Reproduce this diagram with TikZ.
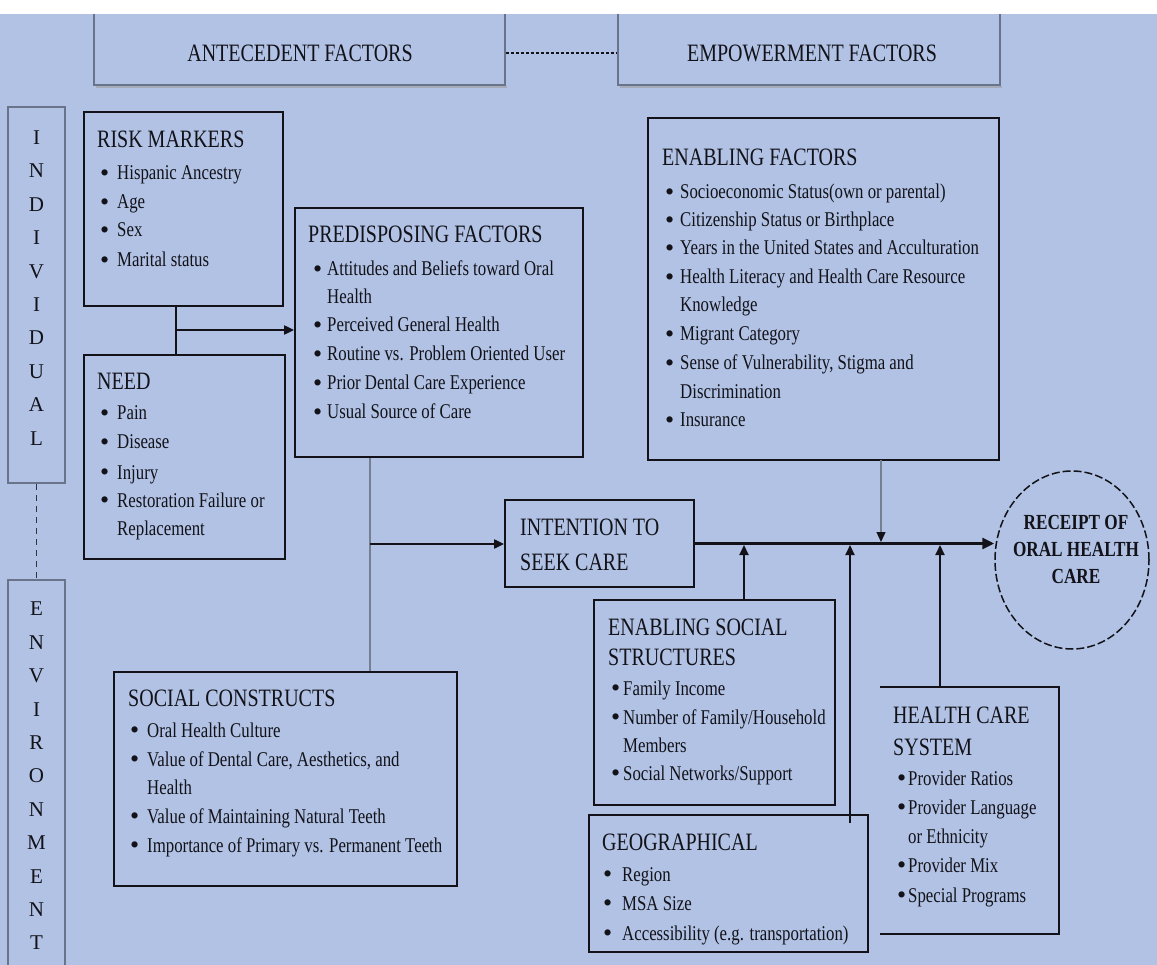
\documentclass[tikz,border=0pt]{standalone}
\usepackage{fontspec}
\setmainfont{Liberation Serif}[FakeStretch=0.8]
\newfontfamily\vfont{Liberation Serif}
\newfontfamily\bulfont{Liberation Serif}
\usetikzlibrary{shapes.geometric,arrows.meta,fit}
\definecolor{bg}{RGB}{177,194,229}
\definecolor{ink}{RGB}{18,18,24}
\definecolor{soft}{RGB}{105,115,138}
\definecolor{gline}{RGB}{118,126,146}
\tikzset{
  box/.style={draw=ink, line width=1.8pt, inner sep=0pt},
  softbox/.style={draw=soft, line width=1.5pt, inner sep=0pt},
  ttl/.style={anchor=base west, inner sep=0pt, font=\fontsize{25}{28}\selectfont, text=ink},
  toptxt/.style={anchor=center, inner sep=0pt, font=\fontsize{25}{28}\selectfont, text=ink},
  itm/.style={anchor=base west, inner sep=0pt, font=\fontsize{21}{25}\selectfont, text=ink},
  vlet/.style={align=center, inner sep=0pt, font=\vfont\fontsize{21}{33.4}\selectfont, text=ink},
  arr/.style={draw=ink, line width=2pt, -{Triangle[length=10pt,width=9pt]}},
  mainarr/.style={draw=ink, line width=3pt, -{Triangle[length=12pt,width=11pt]}},
  thinline/.style={draw=gline, line width=1.3pt},
}
\newcommand\mybul{\raisebox{-1.6pt}{\bulfont\fontsize{26}{26}\selectfont\textbullet}}
\newcommand\myitem[5]{\node[itm] (#1) at (#2,#3) {\makebox[#4pt][l]{\mybul}#5};}
\newcommand\mycont[4]{\node[itm] (#1) at (#2,#3) {#4};}
\begin{document}
\begin{tikzpicture}[x=1pt,y=-1pt]
\useasboundingbox (0,0) rectangle (1157,965);
\fill[bg] (0,0) rectangle (1157,965);

% top boxes
\draw[draw=soft!60, line width=2pt] (96,87) -- (507,87);
\draw[draw=soft!60, line width=2pt] (620,87) -- (1002,87);
\node[softbox, fit={(94,8) (505,85)}] (ante) {};
\node[softbox, fit={(618,8) (1000,85)}] (empo) {};
\fill[white] (0,0) rectangle (1157,14);
\node[toptxt] (anteT) at (300,53) {ANTECEDENT FACTORS};
\node[toptxt] (empoT) at (812,53) {EMPOWERMENT FACTORS};
\draw[draw=ink, line width=1.5pt, dash pattern=on 3pt off 2pt] (ante.east |- anteT) -- (empo.west |- anteT);

% side boxes
\node[softbox, fit={(8,107) (65,483)}] (indiv) {};
\node[vlet] (indivT) at (36.5,288) {I\\N\\D\\I\\V\\I\\D\\U\\A\\L};
\node[softbox, fit={(8,580) (65,985)}] (envir) {};
\node[vlet] (envirT) at (36.5,776) {E\\N\\V\\I\\R\\O\\N\\M\\E\\N\\T};
\draw[draw=ink!70!gline, line width=1.2pt, dash pattern=on 6pt off 5pt] (indiv.south) -- (envir.north);

% risk markers
\node[box, fit={(84,112) (283,306)}] (risk) {};
\node[ttl] (riskT) at (97,148) {RISK MARKERS};
\myitem{rm1}{100}{180}{17}{Hispanic Ancestry}
\myitem{rm2}{100}{209}{17}{Age}
\myitem{rm3}{100}{237}{17}{Sex}
\myitem{rm4}{100}{267}{17}{Marital status}

% need
\node[box, fit={(84,355) (285,559)}] (need) {};
\node[ttl] (needT) at (97,390) {NEED};
\myitem{nd1}{100}{420}{17}{Pain}
\myitem{nd2}{100}{449}{17}{Disease}
\myitem{nd3}{100}{479}{17}{Injury}
\myitem{nd4}{100}{507}{17}{Restoration Failure or}
\mycont{nd5}{117}{535}{Replacement}

% predisposing
\node[box, fit={(295,208) (583,457)}] (pred) {};
\node[ttl] (predT) at (308,243) {PREDISPOSING FACTORS};
\myitem{pd1}{313}{276}{14}{Attitudes and Beliefs toward Oral}
\mycont{pd2}{327}{304}{Health}
\myitem{pd3}{313}{332}{14}{Perceived General Health}
\myitem{pd4}{313}{361}{14}{Routine vs. Problem Oriented User}
\myitem{pd5}{313}{390}{14}{Prior Dental Care Experience}
\myitem{pd6}{313}{419}{14}{Usual Source of Care}

% social constructs
\node[box, fit={(114,672) (457,886)}] (soc) {};
\node[ttl] (socT) at (128,706) {SOCIAL CONSTRUCTS};
\myitem{sc1}{130}{737}{17}{Oral Health Culture}
\myitem{sc2}{130}{766}{17}{Value of Dental Care, Aesthetics, and}
\mycont{sc3}{147}{794}{Health}
\myitem{sc4}{130}{823}{17}{Value of Maintaining Natural Teeth}
\myitem{sc5}{130}{852}{17}{Importance of Primary vs. Permanent Teeth}

% intention
\node[box, fit={(505,500) (694,587)}] (intent) {};
\node[ttl] (intT1) at (520,535) {INTENTION TO};
\node[ttl] (intT2) at (520,570) {SEEK CARE};

% enabling factors
\node[box, fit={(648,118) (999,460)}] (enab) {};
\node[ttl] (enabT) at (662,166) {ENABLING FACTORS};
\myitem{ef1}{665}{199}{15}{Socioeconomic Status(own or parental)}
\myitem{ef2}{665}{227}{15}{Citizenship Status or Birthplace}
\myitem{ef3}{665}{255}{15}{Years in the United States and Acculturation}
\myitem{ef4}{665}{284}{15}{Health Literacy and Health Care Resource}
\mycont{ef5}{680}{312}{Knowledge}
\myitem{ef6}{665}{341}{15}{Migrant Category}
\myitem{ef7}{665}{370}{15}{Sense of Vulnerability, Stigma and}
\mycont{ef8}{680}{399}{Discrimination}
\myitem{ef9}{665}{427}{15}{Insurance}

% receipt ellipse
\node[ellipse, draw=ink, line width=1.5pt, dash pattern=on 8pt off 3pt, minimum width=154pt, minimum height=178pt, inner sep=0pt] (rec) at (1072,560) {};
\node[align=center, inner sep=0pt, font=\bfseries\fontsize{21.5}{27}\selectfont, text=ink] (recT) at (1076,549) {RECEIPT OF\\ORAL HEALTH\\CARE};

% enabling social structures
\node[box, fit={(594,600) (835,805)}] (ess) {};
\node[ttl] (essT1) at (608,635) {ENABLING SOCIAL};
\node[ttl] (essT2) at (608,665) {STRUCTURES};
\myitem{es1}{611}{695}{12}{Family Income}
\myitem{es2}{611}{724}{12}{Number of Family/Household}
\mycont{es3}{623}{752}{Members}
\myitem{es4}{611}{780}{12}{Social Networks/Support}

% geographical
\node[box, fit={(589,815) (868,952)}] (geo) {};
\node[ttl] (geoT) at (602,850) {GEOGRAPHICAL};
\myitem{g1}{603}{881}{19}{Region}
\myitem{g2}{603}{910}{19}{MSA Size}
\myitem{g3}{603}{940}{19}{Accessibility (e.g. transportation)}

% health care system (no left border)
\node[inner sep=0pt, fit={(880,687) (1059,934)}] (hcs) {};
\draw[draw=ink, line width=1.8pt] (hcs.north west) -- (hcs.north east) -- (hcs.south east) -- (hcs.south west);
\node[ttl] (hcsT1) at (893,723) {HEALTH CARE};
\node[ttl] (hcsT2) at (893,755) {SYSTEM};
\myitem{h1}{897}{785}{11}{Provider Ratios}
\myitem{h2}{897}{814}{11}{Provider Language}
\mycont{h3}{908}{843}{or Ethnicity}
\myitem{h4}{897}{872}{11}{Provider Mix}
\myitem{h5}{897}{902}{11}{Special Programs}

% connectors
\coordinate (jn) at (176,330);
\draw[draw=ink, line width=2pt] (risk.south -| jn) -- (need.north -| jn);
\draw[arr] (jn) -- (jn -| pred.west);

\coordinate (pj) at (370,544);
\draw[thinline] (pred.south -| pj) -- (soc.north -| pj);
\draw[arr] (pj) -- (pj -| intent.west);

\draw[mainarr] (intent.east) -- (intent.east -| rec.west);

\coordinate (enA) at (881,460);
\draw[thinline, -{Triangle[length=10pt,width=9pt,color=ink]}, shorten >=1.5pt] (enA) -- (enA |- intent.east);

\coordinate (essA) at (744,600);
\draw[arr, shorten >=1.5pt] (essA) -- (essA |- intent.east);
\coordinate (geoA) at (850,823);
\draw[arr, shorten >=1.5pt] (geoA) -- (geoA |- intent.east);
\coordinate (hcsA) at (940,687);
\draw[arr, shorten >=1.5pt] (hcsA) -- (hcsA |- intent.east);
\end{tikzpicture}
\end{document}
